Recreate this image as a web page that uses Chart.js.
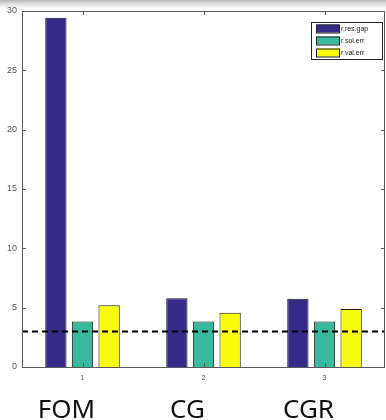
<!DOCTYPE html>
<html>
<head>
<meta charset="utf-8">
<script src="https://cdn.jsdelivr.net/npm/chart.js@4/dist/chart.umd.min.js"></script>
<style>
  html, body { margin: 0; padding: 0; }
  body {
    width: 386px; height: 420px; overflow: hidden;
    background: linear-gradient(to bottom, #b4b4b4 0px, #d6d6d6 3px, #f2f2f2 7px, #ffffff 9px);
  }
  #wrap { position: relative; width: 386px; height: 420px; }
</style>
</head>
<body>
<div id="wrap"><canvas id="c" width="386" height="420"></canvas></div>
<script>
// Solver comparison: error measures per method
const categories = ['1', '2', '3'];
const methods = ['FOM', 'CG', 'CGR'];
const seriesNames = ['r.res.gap', 'r.sol.err', 'r.val.err'];
const resGap = [29.43, 5.79, 5.76];
const solErr = [3.83, 3.83, 3.83];
const valErr = [5.20, 4.58, 4.89];
const threshold = 3;
const yTicks = [0, 5, 10, 15, 20, 25, 30];

const colors = ['#352a87', '#38b99d', '#f9fb0e'];
const axisColor = '#5a5a5a';

// Box around the axes, inward tick marks, threshold line, inset legend, method names
const decorations = {
  id: 'decorations',
  afterDatasetsDraw(chart) {
    const { ctx, chartArea: a, scales: { x, y } } = chart;
    ctx.save();

    // dashed threshold line
    const ty = y.getPixelForValue(threshold);
    ctx.strokeStyle = '#000';
    ctx.lineWidth = 2;
    ctx.setLineDash([6, 4]);
    ctx.beginPath();
    ctx.moveTo(a.left, ty);
    ctx.lineTo(a.right, ty);
    ctx.stroke();
    ctx.setLineDash([]);

    // axes box
    ctx.strokeStyle = axisColor;
    ctx.lineWidth = 1;
    ctx.strokeRect(a.left + 0.5, a.top + 0.5, a.right - a.left - 1, a.bottom - a.top);

    // inward ticks
    ctx.beginPath();
    yTicks.forEach(v => {
      const p = Math.round(y.getPixelForValue(v)) + 0.5;
      ctx.moveTo(a.left, p); ctx.lineTo(a.left + 4, p);
      ctx.moveTo(a.right, p); ctx.lineTo(a.right - 4, p);
    });
    categories.forEach((c, i) => {
      const p = Math.round(x.getPixelForValue(i)) + 0.5;
      ctx.moveTo(p, a.top); ctx.lineTo(p, a.top + 4);
      ctx.moveTo(p, a.bottom); ctx.lineTo(p, a.bottom - 4);
    });
    ctx.stroke();

    // legend
    const lx = 311, ly = 22, lw = 71, lh = 37;
    ctx.fillStyle = '#fff';
    ctx.fillRect(lx, ly, lw, lh);
    ctx.strokeStyle = '#222';
    ctx.strokeRect(lx + 0.5, ly + 0.5, lw, lh);
    ctx.font = '7px "Liberation Sans", Arial, sans-serif';
    ctx.textBaseline = 'middle';
    ctx.textAlign = 'left';
    chart.data.datasets.forEach((ds, i) => {
      const cy = ly + 6.5 + i * 12;
      ctx.fillStyle = ds.backgroundColor;
      ctx.fillRect(316, cy - 4, 23, 8);
      ctx.strokeStyle = '#222';
      ctx.strokeRect(316.5, cy - 3.5, 23, 8);
      ctx.fillStyle = '#222';
      ctx.fillText(ds.label, 341, cy + 0.5);
    });

    // method names under the groups
    ctx.font = '26px "Noto Sans", sans-serif';
    ctx.fillStyle = '#111';
    ctx.textAlign = 'center';
    ctx.textBaseline = 'alphabetic';
    methods.forEach((m, i) => {
      ctx.fillText(m, x.getPixelForValue(i) - 16, 418);
    });

    ctx.restore();
  }
};

const makeSet = (label, data, i) => ({
  label, data,
  backgroundColor: colors[i],
  borderColor: '#1a1a1a',
  borderWidth: 1,
  borderSkipped: 'start'
});

new Chart(document.getElementById('c'), {
  type: 'bar',
  data: {
    labels: categories,
    datasets: [
      makeSet(seriesNames[0], resGap, 0),
      makeSet(seriesNames[1], solErr, 1),
      makeSet(seriesNames[2], valErr, 2)
    ]
  },
  options: {
    responsive: false,
    animation: false,
    devicePixelRatio: 1,
    layout: { padding: { top: 11, right: 1, left: 0, bottom: 0 } },
    plugins: { legend: { display: false }, tooltip: { enabled: false } },
    datasets: { bar: { categoryPercentage: 0.66, barPercentage: 0.8 } },
    scales: {
      x: {
        offset: true,
        grid: { display: false, drawTicks: false },
        border: { display: false },
        ticks: { color: '#555', font: { family: '"Liberation Sans", Arial, sans-serif', size: 7 }, padding: 7 },
        afterFit(s) { s.height = 53; }
      },
      y: {
        min: 0, max: 30,
        grid: { display: false, drawTicks: false },
        border: { display: false },
        afterBuildTicks(s) { s.ticks = yTicks.map(v => ({ value: v })); },
        ticks: { color: '#555', font: { family: '"Liberation Sans", Arial, sans-serif', size: 9 }, padding: 5 },
        afterFit(s) { s.width = 22; }
      }
    }
  },
  plugins: [decorations]
});
</script>
</body>
</html>
